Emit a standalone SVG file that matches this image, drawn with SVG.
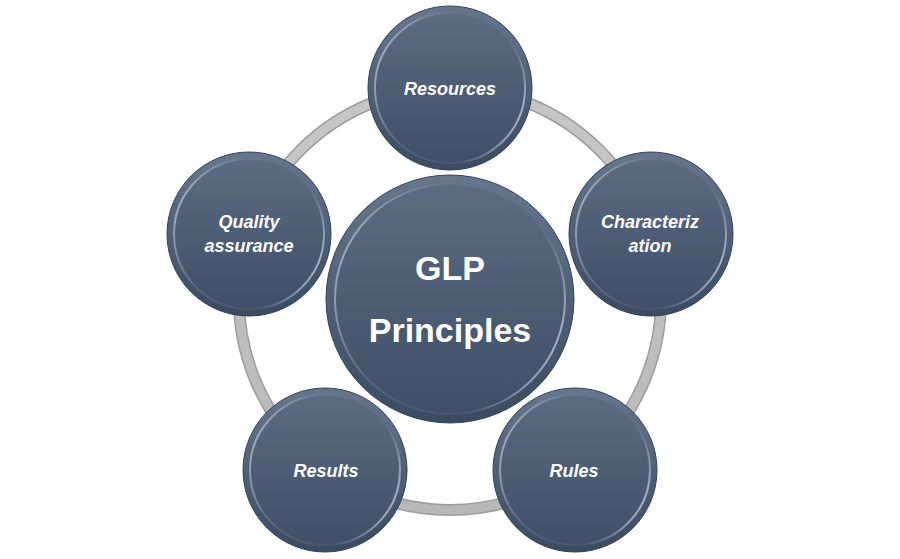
<svg xmlns="http://www.w3.org/2000/svg" width="900" height="559" viewBox="0 0 900 559">
<defs>
<linearGradient id="fill" x1="0" y1="0" x2="0" y2="1">
<stop offset="0" stop-color="#5b6b82"/>
<stop offset="1" stop-color="#3e4f67"/>
</linearGradient>
<linearGradient id="rim" x1="0" y1="0" x2="0" y2="1">
<stop offset="0" stop-color="#66768c"/>
<stop offset="1" stop-color="#3a4a61"/>
</linearGradient>
<linearGradient id="hl" x1="0" y1="0.3" x2="1" y2="0.7">
<stop offset="0" stop-color="#a3b1c4"/>
<stop offset="0.3" stop-color="#6f7f95" stop-opacity="0.5"/>
<stop offset="0.7" stop-color="#55657c" stop-opacity="0.3"/>
<stop offset="1" stop-color="#b7c2d1"/>
</linearGradient>
<linearGradient id="ringg" x1="0" y1="0" x2="0" y2="1">
<stop offset="0" stop-color="#c6c6c6"/>
<stop offset="1" stop-color="#b8b8b8"/>
</linearGradient>
</defs>
<style>
.outer{fill:url(#rim);stroke:#34425a;stroke-width:1}
.inner{fill:url(#fill);stroke:url(#hl);stroke-width:2}
.t{fill:#ffffff;font-family:"Liberation Sans",Arial,sans-serif;font-weight:bold;font-style:italic;font-size:18px;text-anchor:middle}
.c{fill:#ffffff;font-family:"Liberation Sans",Arial,sans-serif;font-weight:bold;font-size:34px;text-anchor:middle}
</style>
<g id="connectors">
<circle cx="450" cy="299" r="211" fill="none" stroke="#9c9c9c" stroke-width="12"/>
<circle cx="450" cy="299" r="211" fill="none" stroke="url(#ringg)" stroke-width="9"/>
</g>
<g id="center">
<circle class="outer" cx="450" cy="299" r="124"/>
<circle class="inner" cx="450" cy="299" r="115"/>
<text class="c" x="450" y="280">GLP</text>
<text class="c" x="450" y="342">Principles</text>
</g>
<g id="resources">
<circle class="outer" cx="450" cy="88" r="82"/>
<circle class="inner" cx="450" cy="88" r="75"/>
<text class="t" x="450" y="95">Resources</text>
</g>
<g id="characterization">
<circle class="outer" cx="651" cy="234" r="82"/>
<circle class="inner" cx="651" cy="234" r="75"/>
<text class="t" x="650" y="228">Characteriz</text>
<text class="t" x="650" y="252">ation</text>
</g>
<g id="rules">
<circle class="outer" cx="575" cy="470" r="82"/>
<circle class="inner" cx="575" cy="470" r="75"/>
<text class="t" x="574" y="477">Rules</text>
</g>
<g id="results">
<circle class="outer" cx="325" cy="470" r="82"/>
<circle class="inner" cx="325" cy="470" r="75"/>
<text class="t" x="326" y="477">Results</text>
</g>
<g id="quality">
<circle class="outer" cx="249" cy="234" r="82"/>
<circle class="inner" cx="249" cy="234" r="75"/>
<text class="t" x="249" y="228">Quality</text>
<text class="t" x="249" y="252">assurance</text>
</g>
</svg>
